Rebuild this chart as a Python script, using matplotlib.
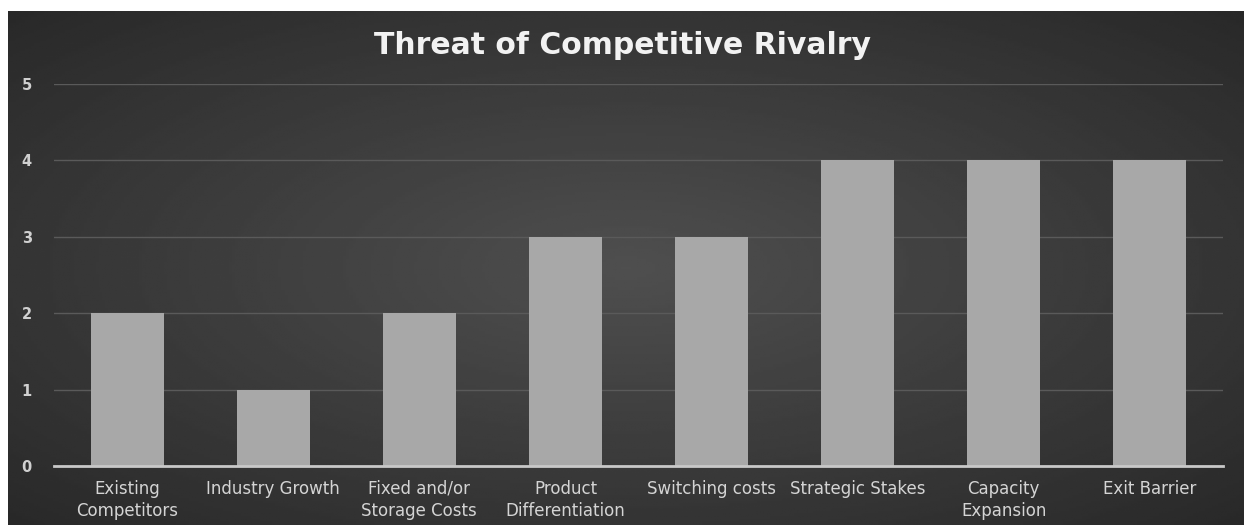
import numpy as np
from matplotlib import pyplot as plt

categories = ["Existing\nCompetitors", "Industry Growth", "Fixed and/or\nStorage Costs",
              "Product\nDifferentiation", "Switching costs", "Strategic Stakes",
              "Capacity\nExpansion", "Exit Barrier"]
scores = [2, 1, 2, 3, 3, 4, 4, 4]
y_ticks = [0, 1, 2, 3, 4, 5]

plt.rcParams['font.family'] = ['DejaVu Sans']

W, H = 1244, 525
fig = plt.figure(figsize=(W / 100, H / 100), dpi=100)
fig.patch.set_facecolor("white")

# tmave pozadie s radialnym prechodom
bg = fig.add_axes([8 / W, 0, 1236 / W, 514 / H])
xx, yy = np.meshgrid(np.linspace(-1, 1, 400), np.linspace(-1, 1, 200))
r = np.sqrt(xx ** 2 + yy ** 2) / np.sqrt(2)
bg.imshow(0.31 - 0.15 * r, cmap="gray", vmin=0, vmax=1, aspect="auto",
          extent=[0, 1, 0, 1])
bg.set_axis_off()

ax = fig.add_axes([54 / W, (H - 466) / H, (1223 - 54) / W, (466 - 84) / H])
ax.patch.set_alpha(0)

x = np.arange(len(categories))
ax.bar(x, scores, width=0.5, color="#a8a8a8", zorder=3)

ax.set_xlim(-0.5, len(categories) - 0.5)
ax.set_ylim(0, 5)
ax.set_yticks(y_ticks)
ax.set_xticks(x)
ax.set_xticklabels(categories, color="#d4d4d4", fontsize=12, linespacing=1.3)
ax.set_yticklabels([str(t) for t in y_ticks], color="#d0d0d0", fontsize=10.5,
                   fontweight="bold")
ax.tick_params(axis="both", length=0)
ax.tick_params(axis="y", pad=16)
ax.tick_params(axis="x", pad=10)

ax.grid(axis="y", color="#5a5a5a", linewidth=1, zorder=0)
for s in ["top", "right", "left"]:
    ax.spines[s].set_visible(False)
ax.spines["bottom"].set_color("#c8c8c8")
ax.spines["bottom"].set_linewidth(2)
ax.spines["bottom"].set_zorder(4)

fig.text(0.5, (H - 45) / H, "Threat of Competitive Rivalry", ha="center",
         va="center", color="#f2f2f2", fontsize=21.5, fontweight="bold")

fig.savefig("out.png", dpi=100)
